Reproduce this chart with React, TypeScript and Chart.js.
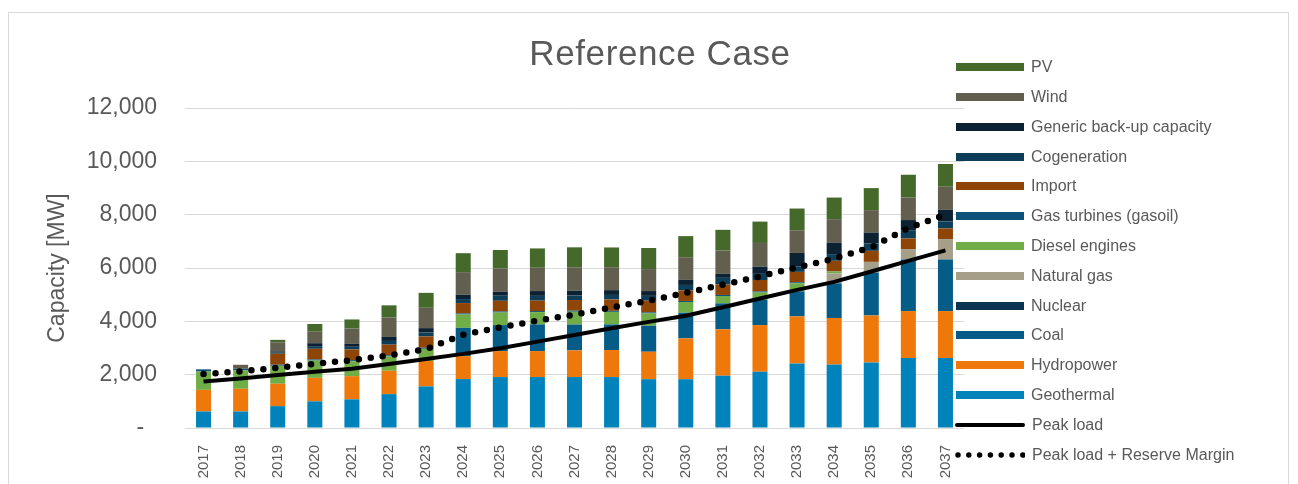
import React, { useEffect, useRef } from "react";
import { Chart, registerables } from "chart.js";

Chart.register(...registerables);

const years = ["2017","2018","2019","2020","2021","2022","2023","2024","2025","2026","2027","2028","2029","2030","2031","2032","2033","2034","2035","2036","2037"];

const geothermal = [620, 620, 820, 1000, 1075, 1270, 1560, 1835, 1910, 1910, 1910, 1910, 1830, 1830, 1960, 2110, 2420, 2380, 2460, 2625, 2625];
const hydropower = [810, 850, 840, 880, 870, 875, 950, 860, 975, 975, 1000, 1015, 1030, 1530, 1740, 1750, 1765, 1745, 1760, 1760, 1760];
const coal = [0, 0, 0, 0, 0, 0, 0, 1060, 975, 1000, 970, 960, 975, 965, 975, 950, 940, 1300, 1610, 1935, 1935];
const nuclear = [0, 0, 0, 0, 0, 0, 0, 0, 0, 0, 0, 0, 0, 0, 0, 0, 0, 0, 0, 0, 0];
const naturalGas = [0, 0, 0, 0, 0, 0, 0, 0, 0, 0, 0, 0, 0, 0, 0, 0, 0, 370, 400, 390, 765];
const dieselEngines = [690, 690, 675, 650, 560, 540, 460, 500, 470, 460, 480, 470, 460, 400, 275, 270, 300, 75, 0, 0, 0];
const gasTurbines = [80, 60, 40, 40, 40, 40, 40, 40, 40, 40, 40, 40, 40, 40, 40, 40, 40, 0, 0, 0, 0];
const importCap = [0, 0, 410, 400, 400, 400, 425, 390, 400, 390, 400, 425, 440, 390, 390, 430, 390, 400, 413, 398, 398];
const cogeneration = [0, 0, 40, 100, 100, 140, 150, 150, 190, 180, 170, 170, 180, 210, 250, 230, 210, 250, 275, 290, 262];
const genericBackup = [0, 0, 50, 110, 110, 150, 160, 160, 150, 180, 180, 180, 180, 190, 150, 270, 500, 435, 413, 400, 440];
const wind = [0, 150, 340, 430, 575, 725, 763, 850, 870, 874, 862, 860, 825, 850, 875, 890, 850, 877, 840, 847, 863];
const pv = [0, 0, 90, 290, 340, 460, 560, 710, 695, 725, 763, 740, 790, 790, 776, 800, 815, 810, 825, 852, 851];

const peakLoad = [1740, 1860, 1990, 2110, 2220, 2400, 2590, 2780, 2990, 3240, 3490, 3740, 3980, 4210, 4530, 4856, 5180, 5480, 5870, 6270, 6660];
const peakLoadReserve = [2025, 2125, 2260, 2410, 2540, 2725, 2960, 3500, 3775, 4025, 4250, 4525, 4775, 5070, 5375, 5685, 6025, 6350, 6775, 7500, 8000];

const yMax = 12000;
const yStep = 2000;

const FONT = '"Liberation Sans", Arial, sans-serif';
const TEXT = "#595959";

const barSeries = [
  { label: "Geothermal", data: geothermal, color: "#0082BA" },
  { label: "Hydropower", data: hydropower, color: "#EE780A" },
  { label: "Coal", data: coal, color: "#055C87" },
  { label: "Nuclear", data: nuclear, color: "#0B3552" },
  { label: "Natural gas", data: naturalGas, color: "#A59F8A" },
  { label: "Diesel engines", data: dieselEngines, color: "#70AD47" },
  { label: "Gas turbines (gasoil)", data: gasTurbines, color: "#0C5279" },
  { label: "Import", data: importCap, color: "#8E4505" },
  { label: "Cogeneration", data: cogeneration, color: "#0E3D57" },
  { label: "Generic back-up capacity", data: genericBackup, color: "#0C2232" },
  { label: "Wind", data: wind, color: "#625F4F" },
  { label: "PV", data: pv, color: "#44692B" },
];

export default function App() {
  const canvasRef = useRef<HTMLCanvasElement | null>(null);

  useEffect(() => {
    const canvas = canvasRef.current;
    if (!canvas) return;
    const datasets: any[] = barSeries.map((s) => ({
      type: "bar",
      label: s.label,
      data: s.data,
      backgroundColor: s.color,
      borderWidth: 0,
      stack: "capacity",
      order: 1,
      categoryPercentage: 1,
      barPercentage: 0.405,
    }));
    datasets.push({
      type: "line",
      label: "Peak load",
      data: peakLoad,
      borderColor: "#000000",
      borderWidth: 4,
      pointRadius: 0,
      fill: false,
      tension: 0,
      stack: "peak",
      order: 0,
    });
    datasets.push({
      type: "line",
      label: "Peak load + Reserve Margin",
      data: peakLoadReserve,
      borderColor: "#000000",
      borderWidth: 6.5,
      borderDash: [0, 12],
      borderCapStyle: "round",
      borderJoinStyle: "round",
      pointRadius: 0,
      fill: false,
      tension: 0,
      stack: "reserve",
      order: 0,
    });

    const chart = new Chart(canvas, {
      type: "bar",
      data: { labels: years, datasets },
      options: {
        animation: false,
        responsive: false,
        devicePixelRatio: 1,
        layout: { padding: { left: 0, right: 334, top: 108, bottom: 0 } },
        plugins: {
          legend: { display: false },
          title: { display: false },
          tooltip: { enabled: false },
        },
        scales: {
          x: {
            stacked: true,
            grid: { display: false },
            border: { display: false },
            ticks: {
              autoSkip: false,
              minRotation: 90,
              maxRotation: 90,
              padding: 9,
              color: TEXT,
              font: { family: FONT, size: 15 },
            },
            afterFit: (s: any) => {
              s.height = 56;
            },
          },
          y: {
            stacked: true,
            min: 0,
            max: yMax,
            grid: { color: "#D9D9D9", lineWidth: 1, drawTicks: false },
            border: { display: false },
            ticks: {
              stepSize: yStep,
              padding: 28,
              color: TEXT,
              font: { family: FONT, size: 23 },
              callback: (v: any) => (Number(v) === 0 ? "-  " : Number(v).toLocaleString("en-US")),
            },
            title: {
              display: true,
              text: "Capacity [MW]",
              color: TEXT,
              font: { family: FONT, size: 23 },
              padding: { top: 44, bottom: 0 },
            },
            afterFit: (s: any) => {
              s.width = 185;
            },
          },
        },
      } as any,
    });
    return () => chart.destroy();
  }, []);

  const legendItems: { label: string; kind: string; color: string }[] = [
    ...barSeries.slice().reverse().map((s) => ({ label: s.label, kind: "box", color: s.color })),
    { label: "Peak load", kind: "line", color: "#000000" },
    { label: "Peak load + Reserve Margin", kind: "dots", color: "#000000" },
  ];

  const rowH = 29.8;
  const firstCenter = 67.3;

  return (
    <div style={{ position: "absolute", left: 0, top: 0, width: 1298, height: 484, overflow: "hidden", background: "#ffffff" }}>
      <div style={{ position: "absolute", left: 8, top: 12, width: 1281, height: 500, border: "1px solid #D9D9D9", boxSizing: "border-box" }} />
      <canvas ref={canvasRef} width={1298} height={484} style={{ position: "absolute", left: 0, top: 0, width: 1298, height: 484, display: "block" }} />
      <div style={{ position: "absolute", left: 430, top: 35, width: 460, textAlign: "center", fontFamily: FONT, fontSize: 35, lineHeight: "36px", color: TEXT, letterSpacing: 0.6 }}>
        Reference Case
      </div>
      {legendItems.map((it, i) => (
        <div key={it.label} style={{ position: "absolute", left: 955, top: firstCenter - rowH / 2 + i * rowH, height: rowH, display: "flex", alignItems: "center", fontFamily: FONT, fontSize: 16, color: TEXT, whiteSpace: "nowrap" }}>
          {it.kind === "box" && <div style={{ width: 68, height: 8, marginLeft: 1, background: it.color }} />}
          {it.kind === "line" && <div style={{ width: 70, height: 4, background: it.color, borderRadius: 2 }} />}
          {it.kind === "dots" && (
            <svg width={70} height={8} style={{ display: "block" }}>
              <line x1={3} y1={4} x2={68} y2={4} stroke="#000" strokeWidth={5.5} strokeLinecap="round" strokeDasharray="0 10.8" />
            </svg>
          )}
          <span style={{ marginLeft: 7 }}>{it.label}</span>
        </div>
      ))}
    </div>
  );
}
